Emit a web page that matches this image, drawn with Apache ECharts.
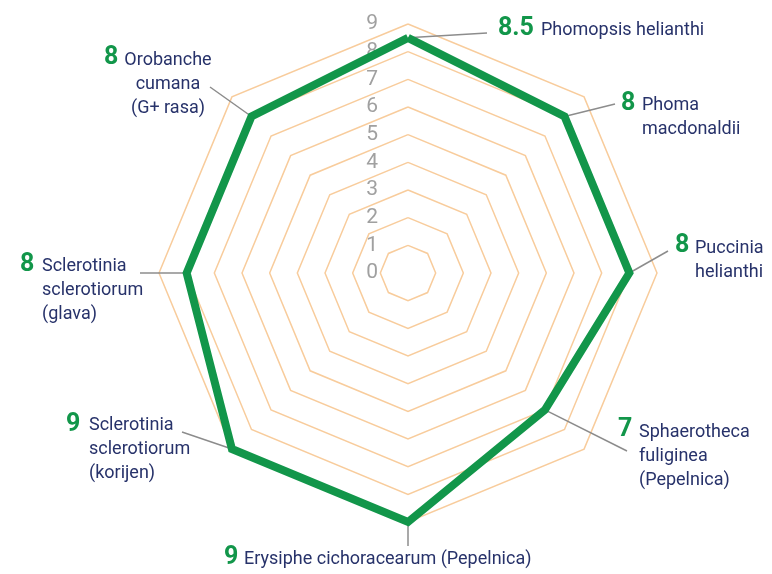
<!DOCTYPE html>
<html>
<head>
<meta charset="utf-8">
<script src="https://cdn.jsdelivr.net/npm/echarts@6/dist/echarts.min.js"></script>
<style>
  html, body { margin: 0; padding: 0; background: #fff; }
  #myChart { width: 772px; height: 574px; }
</style>
</head>
<body>
<div id="myChart"></div>
<script>
// indicators in ECharts order (top, then counter-clockwise)
const diseases = [
  'Phomopsis helianthi',
  'Orobanche\ncumana\n(G+ rasa)',
  'Sclerotinia\nsclerotiorum\n(glava)',
  'Sclerotinia\nsclerotiorum\n(korijen)',
  'Erysiphe cichoracearum (Pepelnica)',
  'Sphaerotheca\nfuliginea\n(Pepelnica)',
  'Puccinia\nhelianthi',
  'Phoma\nmacdonaldii'
];
const scores = [8.5, 8, 8, 9, 9, 7, 8, 8];
const scaleMax = 9;

// layout of the annotations: [numX, numY, nameX, nameY, leaderX, leaderY, nameAlign]
const spots = [
  [498, 29, 541, 30, 487, 33, 'left'],
  [104, 58, 168, 60, 210, 87, 'center'],
  [20, 265, 42, 266, 140, 273, 'left'],
  [66, 425, 89, 425, 182, 432, 'left'],
  [224, 558, 244, 559, 408, 546, 'left'],
  [618, 430, 639, 432, 627, 451, 'left'],
  [675, 246, 695, 248, 668, 251, 'left'],
  [621, 104, 642, 105, 615, 104, 'left']
];

const cx = 408, cy = 273, R = 249;
const green = '#12964a', navy = '#27326a';

function vertex(i, v) {
  const a = Math.PI / 2 + i * Math.PI / 4;
  return [cx + R * v / scaleMax * Math.cos(a), cy - R * v / scaleMax * Math.sin(a)];
}

const graphics = [];
diseases.forEach((name, i) => {
  const s = spots[i];
  const p = vertex(i, scores[i]);
  graphics.push({
    type: 'line', z: 1,
    shape: { x1: s[4], y1: s[5], x2: p[0], y2: p[1] },
    style: { stroke: '#8c8c8c', lineWidth: 1.5 }
  });
  graphics.push({
    type: 'text', x: s[0], y: s[1],
    style: {
      text: String(scores[i]), fill: green,
      font: 'bold 25px Roboto', textVerticalAlign: 'middle'
    }
  });
  graphics.push({
    type: 'text', x: s[2], y: s[3],
    style: {
      text: name, fill: navy, font: '18px Roboto',
      textAlign: s[6], textVerticalAlign: 'top', lineHeight: 24,
      y: -12
    }
  });
});

const myChart = echarts.init(document.getElementById('myChart'));
myChart.setOption({
  animation: false,
  radar: {
    center: [cx, cy],
    radius: R,
    startAngle: 90,
    splitNumber: 9,
    shape: 'polygon',
    indicator: diseases.map((n, i) => ({
      name: n, min: 0, max: scaleMax,
      axisLabel: { show: i === 0 }
    })),
    axisName: { show: false },
    axisLine: { show: false },
    axisTick: { show: false },
    splitArea: { show: false },
    splitLine: { lineStyle: { color: '#f8cc9c', width: 1.5 } },
    axisLabel: {
      show: false, color: '#a0a0a0', fontSize: 21,
      fontFamily: 'Roboto', margin: 30
    }
  },
  series: [{
    type: 'radar',
    symbol: 'none',
    z: 3,
    lineStyle: { color: green, width: 8, join: 'miter' },
    data: [{ value: scores }]
  }],
  graphic: graphics
});
</script>
</body>
</html>
